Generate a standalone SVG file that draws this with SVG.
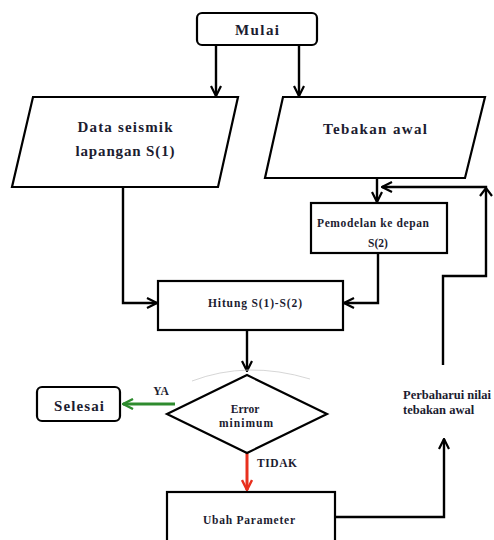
<svg xmlns="http://www.w3.org/2000/svg" width="494" height="540" viewBox="0 0 494 540">
<style>
.s{fill:#fff;stroke:#000;stroke-width:2.2}
.t{font-family:"Liberation Serif","Times New Roman",serif;font-weight:bold;fill:#1c1c30}
.c{fill:none;stroke:#000;stroke-width:2.4}
</style>
<defs>
<marker id="a" viewBox="0 0 12 12" refX="11" refY="6" markerWidth="12" markerHeight="12" markerUnits="userSpaceOnUse" orient="auto">
<polyline points="1,1 11,6 1,11" fill="none" stroke="#000" stroke-width="2.2"/>
</marker>
<marker id="g" viewBox="0 0 12 12" refX="11" refY="6" markerWidth="12" markerHeight="12" markerUnits="userSpaceOnUse" orient="auto">
<polyline points="1,1 11,6 1,11" fill="none" stroke="#2e8b2e" stroke-width="2.4"/>
</marker>
<marker id="r" viewBox="0 0 12 12" refX="11" refY="6" markerWidth="12" markerHeight="12" markerUnits="userSpaceOnUse" orient="auto">
<polyline points="1,1 11,6 1,11" fill="none" stroke="#e8301e" stroke-width="2.4"/>
</marker>
</defs>
<rect width="494" height="540" fill="#fff"/>
<g id="connectors">
<line class="c" x1="216" y1="45" x2="216" y2="96" marker-end="url(#a)"/>
<line class="c" x1="299" y1="45" x2="299" y2="96" marker-end="url(#a)"/>
<polyline class="c" points="123,187 123,303 157,303" marker-end="url(#a)"/>
<line class="c" x1="377" y1="178" x2="377" y2="202" marker-end="url(#a)"/>
<polyline class="c" points="378,253 378,303 344,303" marker-end="url(#a)"/>
<line class="c" x1="247" y1="331" x2="247" y2="371" marker-end="url(#a)"/>
<line x1="175" y1="404" x2="123" y2="404" fill="none" stroke="#2e8b2e" stroke-width="3" marker-end="url(#g)"/>
<line x1="247" y1="453" x2="247" y2="490" fill="none" stroke="#e8301e" stroke-width="3" marker-end="url(#r)"/>
<polyline class="c" points="335,517 444,517 444,439" marker-end="url(#a)"/>
<polyline class="c" points="443,365 443,276 486,276 486,187 382,187" marker-end="url(#a)"/>
<polyline points="480,196 486,188 492,196" fill="none" stroke="#000" stroke-width="2.2"/>
<path d="M192,381 Q247,360 310,379" fill="none" stroke="#ccc" stroke-width="0.8"/>
</g>
<g id="mulai">
<rect class="s" x="197" y="13" width="120" height="32" rx="5"/>
<text class="t" x="257" y="35" font-size="15" text-anchor="middle" textLength="44" lengthAdjust="spacing">Mulai</text>
</g>
<g id="data">
<polygon class="s" points="33,97 238,97 218,187 12,187"/>
<text class="t" x="125" y="132" font-size="15" text-anchor="middle" textLength="95" lengthAdjust="spacing">Data seismik</text>
<text class="t" x="125" y="156" font-size="15" text-anchor="middle" textLength="99" lengthAdjust="spacing">lapangan S(1)</text>
</g>
<g id="tebakan">
<polygon class="s" points="283,97 485,97 465,178 265,178"/>
<text class="t" x="375" y="134" font-size="15" text-anchor="middle" textLength="104" lengthAdjust="spacing">Tebakan awal</text>
</g>
<g id="pemodelan">
<rect class="s" x="311" y="203" width="136" height="50"/>
<text class="t" x="373" y="227" font-size="11.5" text-anchor="middle" textLength="112" lengthAdjust="spacing">Pemodelan ke depan</text>
<text class="t" x="378" y="247" font-size="11.5" text-anchor="middle">S(2)</text>
</g>
<g id="hitung">
<rect class="s" x="158" y="281" width="185" height="49"/>
<text class="t" x="255" y="307" font-size="11.5" text-anchor="middle" textLength="94" lengthAdjust="spacing">Hitung S(1)-S(2)</text>
</g>
<g id="error">
<polygon class="s" points="247,375 327,414 247,453 167,414"/>
<text class="t" x="245" y="413" font-size="11.5" text-anchor="middle">Error</text>
<text class="t" x="246" y="427" font-size="11.5" text-anchor="middle" textLength="54" lengthAdjust="spacing">minimum</text>
</g>
<g id="selesai">
<rect class="s" x="37" y="387" width="83" height="34" rx="5"/>
<text class="t" x="79" y="411" font-size="15" text-anchor="middle" textLength="50" lengthAdjust="spacing">Selesai</text>
</g>
<g id="labels">
<text class="t" x="161" y="395" font-size="11.5" text-anchor="middle">YA</text>
<text class="t" x="257" y="467" font-size="11.5" textLength="40" lengthAdjust="spacing">TIDAK</text>
<text class="t" x="403" y="399" font-size="12.5">Perbaharui nilai</text>
<text class="t" x="403" y="414" font-size="12.5">tebakan awal</text>
</g>
<g id="ubah">
<rect class="s" x="167" y="492" width="168" height="60"/>
<text class="t" x="249" y="524" font-size="11.5" text-anchor="middle" textLength="92" lengthAdjust="spacing">Ubah Parameter</text>
</g>
</svg>
